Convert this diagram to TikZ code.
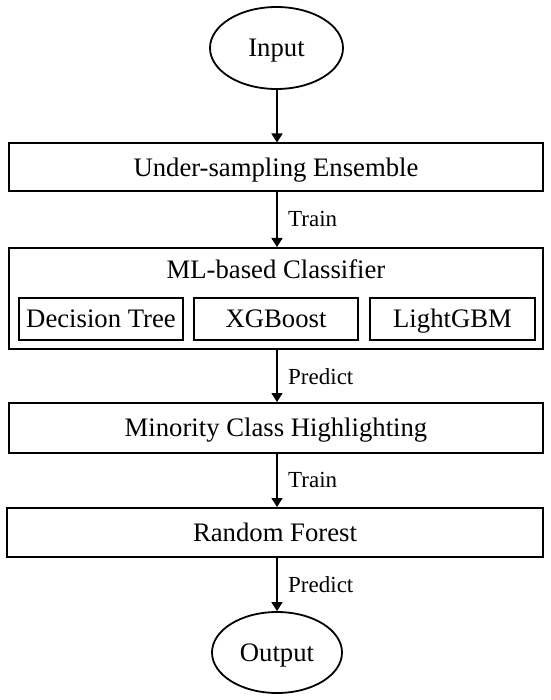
\documentclass[tikz,border=0pt]{standalone}
\usepackage{fontspec}
\setmainfont{Liberation Serif}
\usetikzlibrary{shapes.geometric,arrows.meta}
\begin{document}
\begin{tikzpicture}[x=1pt,y=-1pt,
  maintext/.style={font=\fontsize{26.7}{30}\selectfont, text height=17.7pt, text depth=0pt},
  lbltext/.style={font=\fontsize{23}{26}\selectfont, text height=15.2pt, text depth=0pt, anchor=west, inner sep=0pt},
  oval/.style={draw, line width=1.8pt, ellipse, inner sep=0pt, maintext},
  stagebox/.style={draw, line width=2pt, rectangle, inner sep=0pt, maintext},
  subbox/.style={draw, line width=2pt, rectangle, inner sep=0pt, minimum width=164pt, minimum height=42pt, maintext},
  flow/.style={line width=1.6pt, -{Triangle[width=11pt,length=9pt]}}
]
\useasboundingbox (0,0) rectangle (550,700);
\fill[white] (0,0) rectangle (550,700);

\node[oval, minimum width=133pt, minimum height=82pt] (in) at (276.5,48) {Input};
\node[stagebox, minimum width=534pt, minimum height=48pt] (us) at (276,167.5) {Under-sampling Ensemble};
\node[stagebox, minimum width=534pt, minimum height=101pt] (ml) at (276,298.5) {};
\node[maintext, inner sep=0pt] (mlt) at (276,270) {ML-based Classifier};
\node[subbox] (dt) at (101,319) {Decision Tree};
\node[subbox] (xg) at (276,319) {XGBoost};
\node[subbox, minimum width=165pt] (lg) at (452.5,319) {LightGBM};
\node[stagebox, minimum width=534pt, minimum height=50pt] (mc) at (276,428) {Minority Class Highlighting};
\node[stagebox, minimum width=536pt, minimum height=49pt] (rf) at (275,532.5) {Random Forest};
\node[oval, minimum width=130pt, minimum height=81pt] (out) at (277,652.5) {Output};

\coordinate (ax) at (277,0);
\draw[flow] (ax |- in.south) -- (ax |- us.north);
\draw[flow] (ax |- us.south) -- (ax |- ml.north);
\draw[flow] (ax |- ml.south) -- (ax |- mc.north);
\draw[flow] (ax |- mc.south) -- (ax |- rf.north);
\draw[flow] (ax |- rf.south) -- (ax |- out.north);

\node[lbltext] (l1) at (288,219) {Train};
\node[lbltext] (l2) at (288,377) {Predict};
\node[lbltext] (l3) at (288,480) {Train};
\node[lbltext] (l4) at (288,585) {Predict};
\end{tikzpicture}
\end{document}
